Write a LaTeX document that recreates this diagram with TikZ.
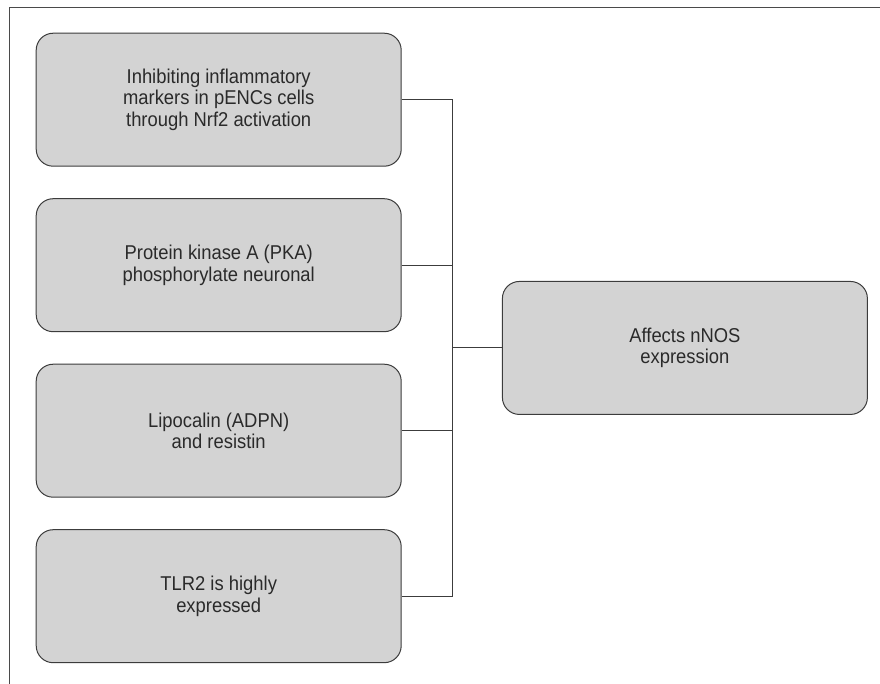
\documentclass[tikz,border=0pt]{standalone}
\usepackage{fontspec}
\setmainfont{Liberation Sans}[FakeStretch=0.92]
\usetikzlibrary{positioning,matrix}
\definecolor{boxgray}{HTML}{D3D3D3}
\definecolor{edgegray}{HTML}{3C3C3C}
\definecolor{framegray}{HTML}{4A4A4A}
\definecolor{textgray}{HTML}{2A2A2A}

\begin{document}
\begin{tikzpicture}[x=1pt, y=-1pt, font=\fontsize{20}{21.5}\selectfont]
	\tikzstyle{block} = [rectangle, draw=edgegray, line width=1pt, fill=boxgray, text=textgray, align=center, rounded corners=17pt, minimum width=365pt, minimum height=133pt]
	\tikzstyle{line} = [draw=edgegray, line width=1pt]
	\useasboundingbox (0,0) rectangle (880,684);
	% frame
	\draw [framegray, line width=1.8pt] (9.5,684) -- (9.5,7.5) -- (880,7.5);
	\matrix (col) [row sep=31.5pt, inner sep=0pt, anchor=north west] at (35.5,32.5)
	{
	% row 1
	\node [block] (inh) {Inhibiting inflammatory\\markers in pENCs cells\\through Nrf2 activation}; \\
	% row 2
	\node [block] (pka) {Protein kinase A (PKA)\\phosphorylate neuronal}; \\
	% row 3
	\node [block] (lip) {Lipocalin (ADPN)\\and resistin}; \\
	% row 4
	\node [block] (tlr) {TLR2 is highly\\expressed}; \\
	};
	\node [block, right=100pt of col] (nnos) {Affects nNOS\\expression};
	\coordinate [right=50.5pt of inh.east] (bus);
	\tikzstyle{every path}=[line]
	\path (inh.east) -- (bus) -- (bus |- tlr.east) -- (tlr.east);
	\path (pka.east) -- (pka.east -| bus);
	\path (lip.east) -- (lip.east -| bus);
	\path (bus |- nnos.west) -- (nnos.west);
\end{tikzpicture}
\end{document}
